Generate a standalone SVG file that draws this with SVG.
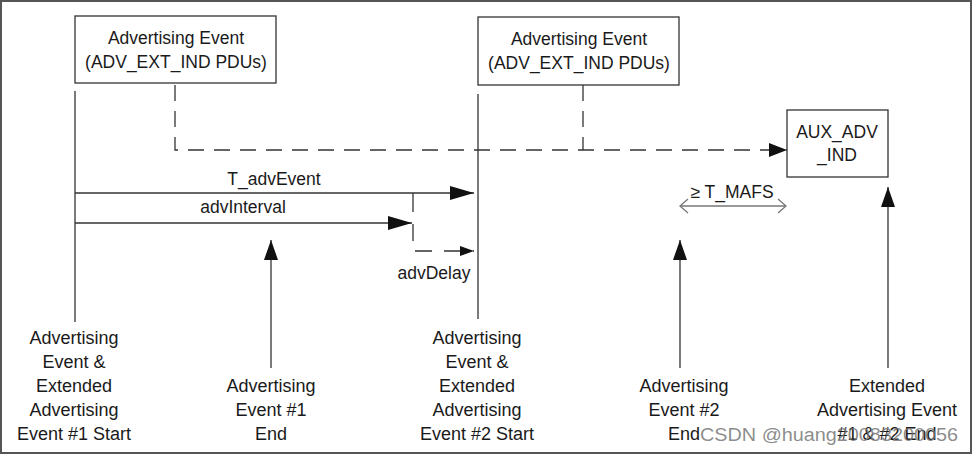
<svg xmlns="http://www.w3.org/2000/svg" width="974" height="456" viewBox="0 0 974 456">
<defs>
<style>
text{font-family:"Liberation Sans",Arial,sans-serif;font-size:17.5px;fill:#1a1a1a;text-anchor:middle}
.lbl text{font-size:18px}
.box{fill:#fff;stroke:#333;stroke-width:1.3}
.ln{fill:none;stroke:#333;stroke-width:1.3}
.dash{fill:none;stroke:#333;stroke-width:1.3;stroke-dasharray:16 10}
.wm{font-family:"Liberation Sans",Arial,sans-serif;fill:#777;fill-opacity:0.85;text-anchor:start;font-size:18px}
</style>
<marker id="big" markerUnits="userSpaceOnUse" markerWidth="24" markerHeight="14" refX="24" refY="7" orient="auto"><path d="M0,0 L24,7 L0,14 z" fill="#111"/></marker>
<marker id="mid" markerUnits="userSpaceOnUse" markerWidth="20" markerHeight="14" refX="20" refY="7" orient="auto"><path d="M0,0 L20,7 L0,14 z" fill="#111"/></marker>
<marker id="sm" markerUnits="userSpaceOnUse" markerWidth="14" markerHeight="10" refX="14" refY="5" orient="auto"><path d="M0,0 L14,5 L0,10 z" fill="#111"/></marker>
<marker id="aux" markerUnits="userSpaceOnUse" markerWidth="18" markerHeight="14" refX="18" refY="7" orient="auto"><path d="M0,0 L18,7 L0,14 z" fill="#111"/></marker>
<marker id="chev" markerUnits="userSpaceOnUse" markerWidth="10" markerHeight="16" refX="9" refY="8" orient="auto-start-reverse"><path d="M1,1 L9,8 L1,15" fill="none" stroke="#777" stroke-width="1.3"/></marker>
</defs>
<rect x="1" y="1" width="970" height="452" fill="#fff" stroke="#555" stroke-width="2"/>

<g id="connectors">
<path class="ln" d="M75,91 V322"/>
<path class="ln" d="M478,94 V319"/>
<path class="dash" d="M175,85 V150 H787" marker-end="url(#aux)"/>
<path class="dash" d="M583,85 V150"/>
<path class="ln" d="M75,193 H474" marker-end="url(#big)"/>
<path class="ln" d="M75,223 H412" marker-end="url(#big)"/>
<path class="ln" d="M413,193 V212"/>
<path class="ln" d="M413,224 V251 H474" style="stroke-dasharray:17 12" marker-end="url(#sm)"/>
<path class="ln" d="M680,206 H786" style="stroke:#777" marker-start="url(#chev)" marker-end="url(#chev)"/>
<path class="ln" d="M271,368 V240" marker-end="url(#mid)"/>
<path class="ln" d="M680,368 V240" marker-end="url(#mid)"/>
<path class="ln" d="M888,368 V187" marker-end="url(#mid)"/>
<text x="274" y="185">T_advEvent</text>
<text x="243" y="213">advInterval</text>
<text x="434" y="279">advDelay</text>
<text x="732" y="198">≥ T_MAFS</text>
</g>

<g id="adv-event-1">
<rect class="box" x="75" y="16" width="201" height="67"/>
<text x="176" y="44">Advertising Event</text>
<text x="176" y="68">(ADV_EXT_IND PDUs)</text>
</g>
<g id="adv-event-2">
<rect class="box" x="478" y="17" width="201" height="68"/>
<text x="579" y="45">Advertising Event</text>
<text x="579" y="69">(ADV_EXT_IND PDUs)</text>
</g>
<g id="aux-adv-ind">
<rect class="box" x="787" y="110" width="101" height="67"/>
<text x="837" y="138">AUX_ADV</text>
<text x="837" y="161">_IND</text>
</g>

<g id="label-ev1-start" class="lbl">
<text x="74" y="344">Advertising</text>
<text x="74" y="368">Event &amp;</text>
<text x="74" y="392">Extended</text>
<text x="74" y="416">Advertising</text>
<text x="74" y="440">Event #1 Start</text>
</g>
<g id="label-ev1-end" class="lbl">
<text x="271" y="392">Advertising</text>
<text x="271" y="416">Event #1</text>
<text x="271" y="440">End</text>
</g>
<g id="label-ev2-start" class="lbl">
<text x="477" y="344">Advertising</text>
<text x="477" y="368">Event &amp;</text>
<text x="477" y="392">Extended</text>
<text x="477" y="416">Advertising</text>
<text x="477" y="440">Event #2 Start</text>
</g>
<g id="label-ev2-end" class="lbl">
<text x="684" y="392">Advertising</text>
<text x="684" y="416">Event #2</text>
<text x="684" y="440">End</text>
</g>
<g id="label-ext-end" class="lbl">
<text x="887" y="392">Extended</text>
<text x="887" y="416">Advertising Event</text>
<text x="887" y="440">#1 &amp; #2 End</text>
</g>
<text class="wm" x="700" y="441" textLength="258" lengthAdjust="spacingAndGlyphs">CSDN @huang20083200056</text>
</svg>
